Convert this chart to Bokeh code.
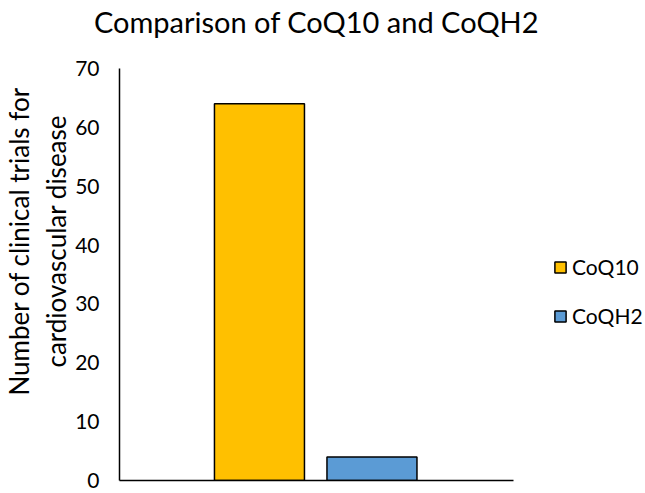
from bokeh.plotting import figure
from bokeh.models import Range1d, Legend, LegendItem, ColumnDataSource, FixedTicker, Title
from bokeh.embed import file_html
from bokeh.resources import INLINE

title_text = "Comparison of CoQ10 and CoQH2"
ylabel_lines = ["Number of clinical trials for", "cardiovascular disease"]
series = ["CoQ10", "CoQH2"]
values = [64, 4]
colors = ["#FFC000", "#5B9BD5"]
positions = [0, 1]
yticks = [0, 10, 20, 30, 40, 50, 60, 70]

FONT = "Lato"
NBSP = "\u00a0"

p = figure(frame_width=394, frame_height=412, output_backend="svg", toolbar_location=None,
           title=None,
           x_range=Range1d(-1.244, 2.258), y_range=Range1d(0, 70),
           min_border_left=118, min_border_right=133, min_border_top=68, min_border_bottom=13)

items = []
for i in range(len(series)):
    src = ColumnDataSource(dict(x=[positions[i]], top=[values[i]]))
    r = p.vbar(x="x", top="top", bottom=0, width=0.8, source=src,
               fill_color=colors[i], line_color="#000000", line_width=1.5)
    items.append(LegendItem(label=series[i], renderers=[r]))

p.grid.visible = False
p.outline_line_color = None
p.background_fill_color = "white"

p.yaxis.ticker = FixedTicker(ticks=yticks)
p.yaxis.major_tick_out = 0
p.yaxis.major_tick_in = 0
p.yaxis.minor_tick_out = 0
p.yaxis.minor_tick_in = 0
p.yaxis.major_label_standoff = 20
p.yaxis.major_label_text_font = FONT
p.yaxis.major_label_text_font_size = "21px"
p.yaxis.major_label_text_color = "#000000"
p.yaxis.axis_line_color = "#000000"
p.yaxis.axis_line_width = 1.5
# leading no-break spaces lift the centred label a little, as in the original
p.yaxis.axis_label = "\n".join(NBSP * 10 + line for line in ylabel_lines)
p.yaxis.axis_label_text_font = FONT
p.yaxis.axis_label_text_font_size = "26px"
p.yaxis.axis_label_text_font_style = "normal"
p.yaxis.axis_label_text_color = "#000000"
p.yaxis.axis_label_text_line_height = 1.15
p.yaxis.axis_label_standoff = 0

p.xaxis.ticker = FixedTicker(ticks=[])
p.xaxis.major_tick_out = 0
p.xaxis.minor_tick_out = 0
p.xaxis.major_label_text_font_size = "0px"
p.xaxis.major_label_standoff = 0
p.xaxis.axis_line_color = "#000000"
p.xaxis.axis_line_width = 1.5

# title with bottom padding so it sits at the top of the page
p.add_layout(Title(text=title_text, align="center", standoff=0,
                   padding=dict(left=0, right=0, top=0, bottom=30),
                   text_font=FONT, text_font_size="29px", text_font_style="normal",
                   text_color="#000000"), "above")

legend = Legend(items=items, location=(40, 152))
legend.border_line_color = None
legend.background_fill_alpha = 0
legend.padding = 0
legend.margin = 0
legend.glyph_width = 14
legend.glyph_height = 14
legend.label_standoff = 5
legend.spacing = 24
legend.label_text_font = FONT
legend.label_text_font_size = "21px"
legend.label_text_color = "#000000"
p.add_layout(legend, "right")

open("out.html", "w").write(file_html(p, INLINE))
